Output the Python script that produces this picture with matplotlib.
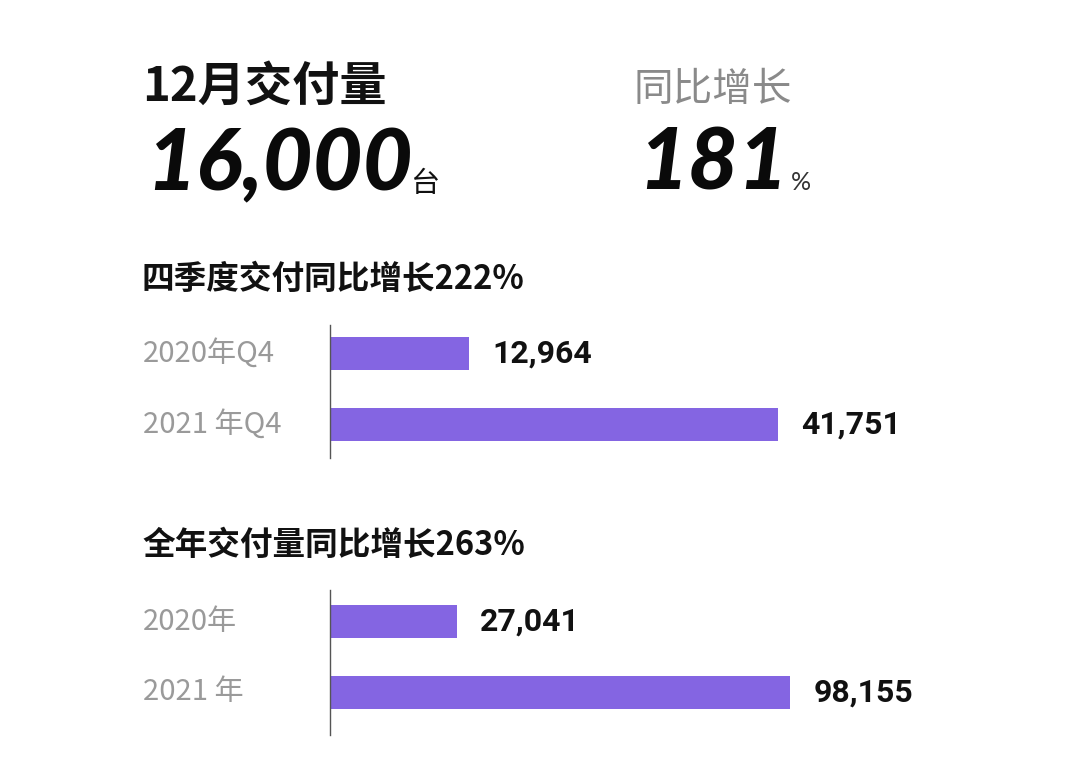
import matplotlib.pyplot as plt
from matplotlib.transforms import blended_transform_factory

plt.rcParams['font.family'] = ['Noto Sans CJK SC', 'DejaVu Sans']

# 数据
q4_labels = ['2020年Q4', '2021 年Q4']
q4_values = [12964, 41751]
year_labels = ['2020年', '2021 年']
year_values = [27041, 98155]

dec_delivery = '16,000'
dec_yoy = '181'
q4_title = '四季度交付同比增长222%'
year_title = '全年交付量同比增长263%'

BAR_COLOR = '#8465e2'
W, H = 1080, 778

fig = plt.figure(figsize=(W / 100, H / 100), dpi=100)
fig.patch.set_facecolor('white')


def fx(px):
    return px / W


def fy(py):
    return 1 - py / H


# 顶部大数字
fig.text(fx(142), fy(87), '12月交付量', fontsize=34, fontweight='bold',
         va='center', ha='left', color='#111111')
fig.text(fx(146), fy(190), dec_delivery, fontsize=62, fontweight='black',
         style='italic', family=['Lato', 'DejaVu Sans'], va='baseline',
         ha='left', color='#0a0a0a')
fig.text(fx(410), fy(192), '台', fontsize=21, va='baseline', ha='left',
         color='#111111')
fig.text(fx(634), fy(90), '同比增长', fontsize=28.5, fontweight='light',
         va='center', ha='left', color='#8a8a8a')
fig.text(fx(638), fy(190), dec_yoy, fontsize=62, fontweight='black',
         style='italic', family=['Lato', 'DejaVu Sans'], va='baseline',
         ha='left', color='#0a0a0a')
fig.text(fx(791), fy(190), '%', fontsize=18, fontweight='normal',
         family=['Lato', 'DejaVu Sans'], va='baseline', ha='left',
         color='#333333')


def bar_panel(top, bottom, ylim, xmax, labels, values, title, title_y):
    fig.text(fx(142), fy(title_y), title, fontsize=23.5, fontweight='bold',
             va='center', ha='left', color='#111111')
    ax = fig.add_axes([fx(330), fy(bottom), fx(700), (bottom - top) / H])
    ypos = list(range(len(values)))
    ax.barh(ypos, values, height=0.465, color=BAR_COLOR)
    ax.set_xlim(0, xmax)
    ax.set_ylim(*ylim)
    for s in ['top', 'right', 'bottom']:
        ax.spines[s].set_visible(False)
    ax.spines['left'].set_color('#555555')
    ax.spines['left'].set_linewidth(1.0)
    ax.set_xticks([])
    ax.set_yticks([])
    ax.patch.set_alpha(0)
    tr = blended_transform_factory(fig.transFigure, ax.transData)
    for y, lab, v in zip(ypos, labels, values):
        ax.text(fx(143), y, lab, transform=tr, fontsize=21, fontweight='light',
                va='center', ha='left', color='#9a9a9a')
        ax.annotate(f'{v:,}', (v, y), xytext=(17, 0), textcoords='offset points',
                    fontsize=23, fontweight='bold', family=['Roboto', 'DejaVu Sans'],
                    va='center', ha='left', color='#111111')
    return ax


bar_panel(325, 458, (1.472, -0.401), 65236, q4_labels, q4_values, q4_title, 279)
bar_panel(590, 735, (1.599, -0.444), 149367, year_labels, year_values, year_title, 545)

fig.savefig('out.png', dpi=100, facecolor='white')
